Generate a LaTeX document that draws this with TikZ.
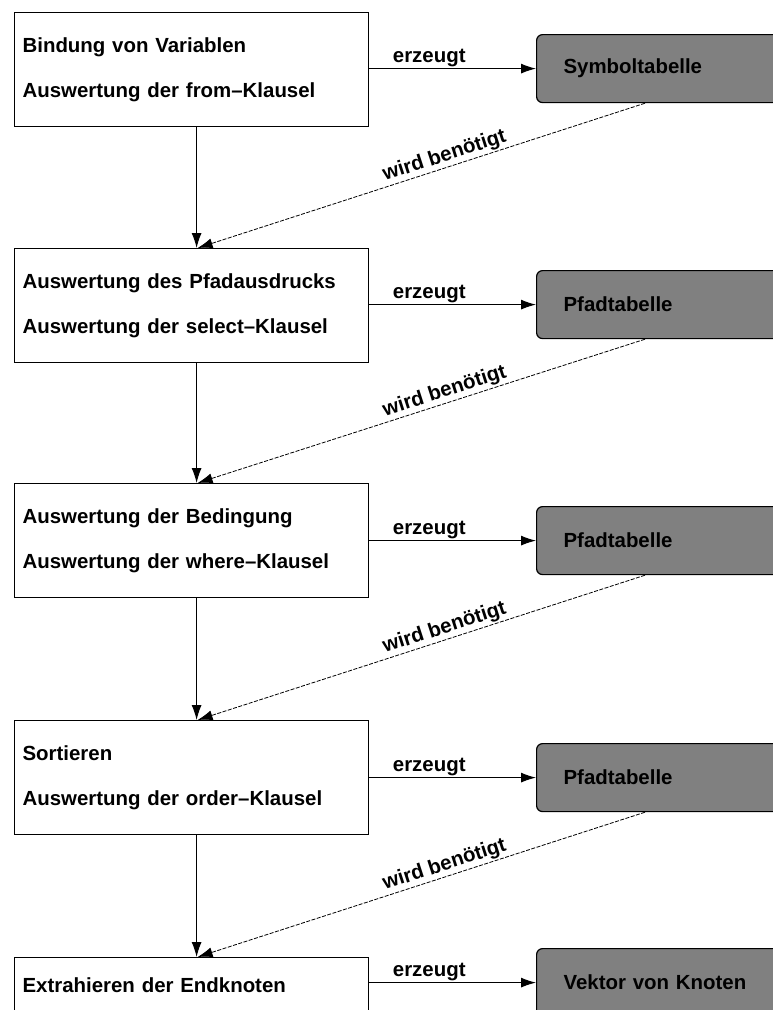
\documentclass[tikz,border=0pt]{standalone}
\usepackage{fontspec}
\setmainfont{Liberation Sans}
\usetikzlibrary{arrows.meta}
\definecolor{storegray}{RGB}{128,128,128}
\begin{document}
\begin{tikzpicture}[x=1bp,y=-1bp,
  font=\bfseries\fontsize{20.5}{45}\selectfont,
  stage/.style={draw, line width=1.2bp, align=left, text width=338bp,
    inner xsep=8bp, inner ysep=0pt, minimum height=114bp, anchor=north west},
  store/.style={draw, line width=1.2bp, fill=storegray, rounded corners=6bp,
    align=left, text width=260bp, inner xsep=27bp, minimum height=68bp,
    anchor=north west},
  flow/.style={-{Latex[length=15bp,width=10bp]}, line width=1bp},
  need/.style={flow, line width=0.8bp, dash pattern=on 4bp off 1.5bp},
  lbl/.style={font=\bfseries\fontsize{20.5}{24}\selectfont, inner sep=1.5bp}
]
\useasboundingbox (0,0) rectangle (773,1010);
\clip (0,0) rectangle (773,1010);

% processing stages
\node[stage] (b1) at (14,12)  {Bindung von Variablen\\Auswertung der from--Klausel};
\node[stage] (b2) at (14,248) {Auswertung des Pfadausdrucks\\Auswertung der select--Klausel};
\node[stage] (b3) at (14,483) {Auswertung der Bedingung\\Auswertung der where--Klausel};
\node[stage] (b4) at (14,720) {Sortieren\\Auswertung der order--Klausel};
\node[stage] (b5) at (14,957) {Extrahieren der Endknoten\\\strut};

% produced data structures
\node[store] (g1) at (536,34)  {Symboltabelle};
\node[store] (g2) at (536,270) {Pfadtabelle};
\node[store] (g3) at (536,506) {Pfadtabelle};
\node[store] (g4) at (536,743) {Pfadtabelle};
\node[store] (g5) at (536,948) {Vektor von Knoten};

% "erzeugt" connectors
\foreach \i in {1,...,5}
  \draw[flow] (g\i.west -| b\i.east) -- node[lbl, above, pos=0.36] {erzeugt} (g\i.west);

% control flow between stages
\foreach \i/\j in {1/2,2/3,3/4,4/5}
  \draw[flow] ([xshift=5bp]b\i.south) -- ([xshift=5bp]b\j.north);

% "wird benötigt" connectors
\foreach \i/\j in {1/2,2/3,3/4,4/5}
  \draw[need] ([xshift=109bp]g\i.south west) --
    node[lbl, sloped, above, pos=0.44] {wird benötigt} ([xshift=6bp]b\j.north);
\end{tikzpicture}
\end{document}
